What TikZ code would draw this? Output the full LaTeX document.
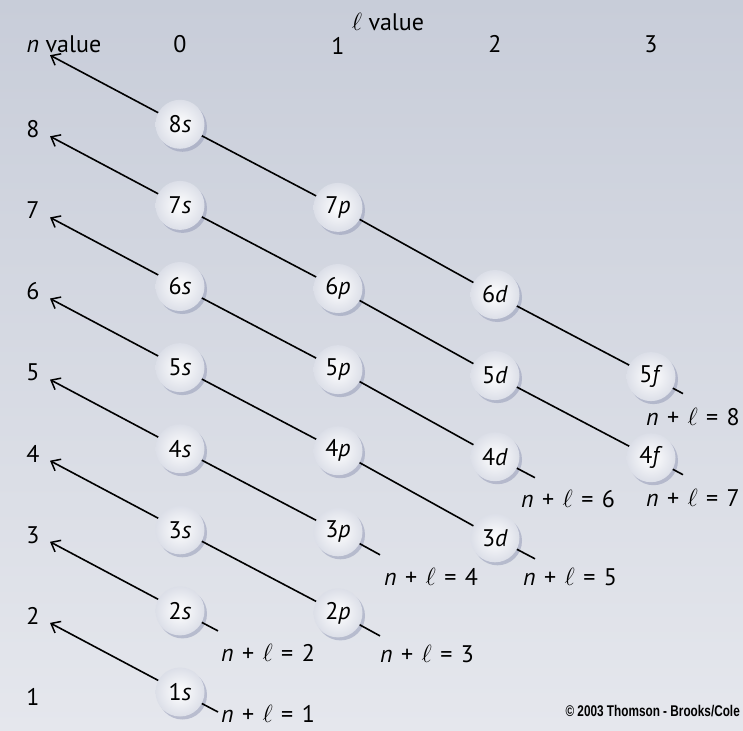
\documentclass[tikz,border=0pt]{standalone}
\usepackage{fontspec}
\setmainfont{PT Sans}
\newfontfamily\cfont[FakeStretch=0.76]{Liberation Sans}
\usetikzlibrary{arrows.meta,shadows,calc}
\definecolor{bgtop}{RGB}{200,205,217}
\definecolor{bgbot}{RGB}{229,231,237}
\definecolor{shad}{RGB}{150,156,184}
\definecolor{orbedge}{RGB}{220,223,232}
\newcommand{\npl}[1]{\textit{n}\hspace{2pt} + \hspace{2pt}$\ell$\hspace{2pt} = \hspace{2pt}#1}
\begin{document}
\begin{tikzpicture}[x=1pt,y=-1pt,
  txt/.style={font=\fontsize{24}{26}\selectfont, inner sep=0pt},
  orb/.style={circle, minimum size=49pt, inner sep=0pt, font=\fontsize{24}{26}\selectfont,
     inner color=white, outer color=orbedge,
     drop shadow={shadow xshift=2.5pt, shadow yshift=-3pt, fill=shad, opacity=0.55}},
  conn/.style={line width=1.6pt, black},
  arr/.style={conn, -{Straight Barb[length=8pt,width=13pt,line width=1.5pt]}}
]
\shade[top color=bgtop, bottom color=bgbot] (0,0) rectangle (743,730);
\useasboundingbox (0,0) rectangle (743,730);

% headers
\node[txt] (nval) at (64,44) {\textit{n} value};
\node[txt] (lval) at (388,22) {$\ell$ value};
\node[txt] (c0) at (180,44) {0};
\node[txt] (c1) at (338,46) {1};
\node[txt] (c2) at (495,44) {2};
\node[txt] (c3) at (651,44) {3};
\foreach \n in {1,...,8}
  \node[txt] (r\n) at (33,{697-(\n-1)*81.1}) {\n};

% arrow tips
\foreach \k in {1,...,8}
  \coordinate (T\k) at (50,{704-\k*81.1});

% orbitals
\foreach \n in {1,...,8}
  \node[orb] (\n s) at (180,{692-(\n-1)*81.1}) {\n\textit{s}};
\foreach \n in {2,...,7}
  \node[orb] (\n p) at (338,{694-(\n-1)*81.1}) {\n\textit{p}};
\foreach \n in {3,...,6}
  \node[orb] (\n d) at (495,{700-(\n-1)*81.1}) {\n\textit{d}};
\foreach \n in {4,5}
  \node[orb] (\n f) at (651,{701-(\n-1)*81.1}) {\n\textit{f}};

% arrows back to the n axis
\foreach \k in {1,...,8}
  \draw[arr] (\k s) -- (T\k);

% diagonals
\draw[conn] (3s) -- (2p);
\draw[conn] (4s) -- (3p);
\draw[conn] (5s) -- (4p) -- (3d);
\draw[conn] (6s) -- (5p) -- (4d);
\draw[conn] (7s) -- (6p) -- (5d) -- (4f);
\draw[conn] (8s) -- (7p) -- (6d) -- (5f);

% end stubs
\coordinate (E1) at ($(1s)+(38,20)$);
\coordinate (E2) at ($(2s)+(38,20)$);
\coordinate (E3) at ($(2p)+(42,23)$);
\coordinate (E4) at ($(3p)+(42,23)$);
\coordinate (E5) at ($(3d)+(40,21)$);
\coordinate (E6) at ($(4d)+(40,21)$);
\coordinate (E7) at ($(4f)+(32,17)$);
\coordinate (E8) at ($(5f)+(32,17)$);
\draw[conn] (1s) -- (E1);
\draw[conn] (2s) -- (E2);
\draw[conn] (2p) -- (E3);
\draw[conn] (3p) -- (E4);
\draw[conn] (3d) -- (E5);
\draw[conn] (4d) -- (E6);
\draw[conn] (4f) -- (E7);
\draw[conn] (5f) -- (E8);

% n + l labels
\node[txt] (L1) at ($(1s)+(88,22)$) {\npl{1}};
\node[txt] (L2) at ($(2s)+(88,42)$) {\npl{2}};
\node[txt] (L3) at ($(2p)+(89,41)$) {\npl{3}};
\node[txt] (L4) at ($(3p)+(93,45)$) {\npl{4}};
\node[txt] (L5) at ($(3d)+(75,39)$) {\npl{5}};
\node[txt] (L6) at ($(4d)+(73,42)$) {\npl{6}};
\node[txt, anchor=east] (L7) at ($(4f)+(89,40)$) {\npl{7}};
\node[txt, anchor=east] (L8) at ($(5f)+(89,40)$) {\npl{8}};

\node[inner sep=0pt, anchor=east, font=\cfont\bfseries\fontsize{15.5}{17}\selectfont] (copy) at (740,711) {© 2003 Thomson - Brooks/Cole};
\end{tikzpicture}
\end{document}
